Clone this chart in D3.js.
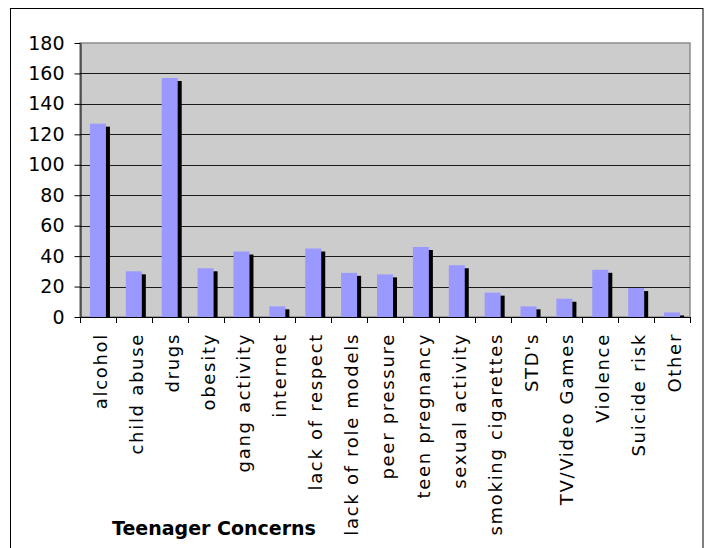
<!DOCTYPE html>
<html>
<head>
<meta charset="utf-8">
<script src="https://cdn.jsdelivr.net/npm/d3@7"></script>
<style>
  html, body { margin: 0; padding: 0; background: #fff; }
  svg { display: block; }
  text { font-family: "DejaVu Sans", Verdana, sans-serif; fill: #000; }
</style>
</head>
<body>
<svg id="chart" width="704" height="548"></svg>
<script>
const categories = ["alcohol", "child abuse", "drugs", "obesity", "gang activity", "internet",
  "lack of respect", "lack of role models", "peer pressure", "teen pregnancy", "sexual activity",
  "smoking cigarettes", "STD's", "TV/Video Games", "Violence", "Suicide risk", "Other"];
const values = [127, 30, 157, 32, 43, 7, 45, 29, 28, 46, 34, 16, 7, 12, 31, 19, 3];
const yTicks = [0, 20, 40, 60, 80, 100, 120, 140, 160, 180];
const xTitle = "Teenager Concerns";

const svg = d3.select("#chart");
const plot = { left: 80, right: 690, top: 43, bottom: 317 };

// outer chart frame
svg.append("rect").attr("x", 10.5).attr("y", 8.5).attr("width", 692.5).attr("height", 560)
  .attr("fill", "#fff").attr("stroke", "#000").attr("stroke-width", 1);

const x = d3.scaleBand().domain(categories).range([plot.left, plot.right]).paddingInner(0.554).paddingOuter(0.277);
const xCat = d3.scaleBand().domain(categories).range([plot.left, plot.right]).padding(0);
const y = d3.scaleLinear().domain([0, 180]).range([plot.bottom, plot.top]);

// plot area
svg.append("rect").attr("x", plot.left).attr("y", plot.top)
  .attr("width", plot.right - plot.left).attr("height", plot.bottom - plot.top)
  .attr("fill", "#cccccc").attr("stroke", "#8c8c8c").attr("stroke-width", 1.5);

// gridlines
svg.append("g").selectAll("line").data(yTicks.filter(d => d > 0 && d < 180)).join("line")
  .attr("x1", plot.left).attr("x2", plot.right)
  .attr("y1", d => Math.round(y(d)) + 0.5).attr("y2", d => Math.round(y(d)) + 0.5)
  .attr("stroke", "#1a1a1a").attr("stroke-width", 1);

// clip for shadows
svg.append("clipPath").attr("id", "pclip").append("rect")
  .attr("x", plot.left).attr("y", plot.top).attr("width", plot.right - plot.left).attr("height", plot.bottom - plot.top);

const bars = svg.append("g").attr("clip-path", "url(#pclip)");
const data = categories.map((c, i) => ({ c, v: values[i] }));
bars.selectAll("rect.shadow").data(data).join("rect").attr("class", "shadow")
  .attr("x", d => x(d.c) + 4).attr("y", d => y(d.v) + 3)
  .attr("width", x.bandwidth()).attr("height", d => plot.bottom - y(d.v))
  .attr("fill", "#000");
bars.selectAll("rect.bar").data(data).join("rect").attr("class", "bar")
  .attr("x", d => x(d.c)).attr("y", d => y(d.v))
  .attr("width", x.bandwidth()).attr("height", d => plot.bottom - y(d.v))
  .attr("fill", "#9999ff");

// y axis
const yAxis = svg.append("g").attr("transform", `translate(${plot.left + 0.5},0)`)
  .call(d3.axisLeft(y).tickValues(yTicks).tickSize(6).tickPadding(10).tickSizeOuter(0));
yAxis.select(".domain").attr("stroke", "#000");
yAxis.selectAll(".tick line").attr("stroke", "#000");
yAxis.selectAll(".tick text").attr("font-size", "19px").attr("font-family", "DejaVu Sans, Verdana, sans-serif").attr("fill", "#000");

// x axis (ticks at category boundaries)
const boundaries = categories.map(c => xCat(c)).concat([plot.right]);
const xg = svg.append("g");
xg.append("line").attr("x1", plot.left).attr("x2", plot.right)
  .attr("y1", plot.bottom + 0.5).attr("y2", plot.bottom + 0.5).attr("stroke", "#000");
xg.selectAll("line.tick").data(boundaries).join("line").attr("class", "tick")
  .attr("x1", d => Math.round(d) + 0.5).attr("x2", d => Math.round(d) + 0.5)
  .attr("y1", plot.bottom).attr("y2", plot.bottom + 6).attr("stroke", "#000");
xg.selectAll("text").data(categories).join("text")
  .attr("transform", d => `translate(${xCat(d) + xCat.bandwidth() / 2 + 9},333) rotate(-90)`)
  .attr("text-anchor", "end")
  .attr("font-size", "18px").attr("letter-spacing", "1.7px")
  .text(d => d);

// x title
svg.append("text").attr("x", 112).attr("y", 535)
  .attr("font-size", "19px").attr("font-weight", "bold")
  .text(xTitle);
</script>
</body>
</html>
